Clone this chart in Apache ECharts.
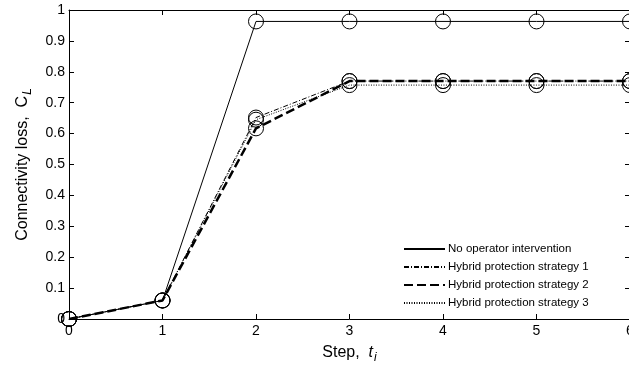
<!DOCTYPE html>
<html>
<head>
<meta charset="utf-8">
<script src="https://cdn.jsdelivr.net/npm/echarts@6/dist/echarts.min.js"></script>
<style>
  html, body { margin: 0; padding: 0; background: #fff; }
  #chart { width: 629px; height: 372px; }
</style>
</head>
<body>
<div id="chart"></div>
<script>
// Step indices and connectivity loss per scenario
const steps = [0, 1, 2, 3, 4, 5, 6];
const noIntervention = [0, 0.06, 0.963, 0.963, 0.963, 0.963, 0.963];
const hybrid1 = [0, 0.06, 0.652, 0.77, 0.77, 0.77, 0.77];
const hybrid2 = [0, 0.06, 0.617, 0.77, 0.77, 0.77, 0.77];
const hybrid3 = [0, 0.06, 0.645, 0.757, 0.757, 0.757, 0.757];
const seriesNames = [
  'No operator intervention',
  'Hybrid protection strategy 1',
  'Hybrid protection strategy 2',
  'Hybrid protection strategy 3'
];

const FONT = '"Liberation Sans", Arial, Helvetica, sans-serif';

function pairs(ys) { return steps.map((x, i) => [x, ys[i]]); }

function makeSeries(name, ys, type, width) {
  return {
    name: name,
    type: 'line',
    data: pairs(ys),
    symbol: 'circle',
    symbolSize: 15,
    showSymbol: true,
    itemStyle: { color: 'rgba(0,0,0,0)', borderColor: '#000', borderWidth: 1 },
    lineStyle: { color: '#000', width: width, type: type },
    emphasis: { disabled: true },
    animation: false
  };
}

const chart = echarts.init(document.getElementById('chart'), null, { renderer: 'canvas' });

const axisLine = { show: true, onZero: false, lineStyle: { color: '#000', width: 1 } };
const tick = { show: true, inside: true, length: 5, lineStyle: { color: '#000', width: 1 } };

chart.setOption({
  backgroundColor: '#fff',
  animation: false,
  grid: { left: 69, right: -1, top: 10, bottom: 53, containLabel: false, outerBoundsMode: 'none' },
  legend: {
    orient: 'vertical',
    left: 398,
    top: 238,
    itemWidth: 41,
    itemHeight: 12,
    itemGap: 6,
    data: seriesNames,
    itemStyle: { opacity: 0 },
    textStyle: { fontFamily: FONT, fontSize: 11.5, color: '#000', padding: [0, 0, 0, -2] }
  },
  xAxis: [
    {
      type: 'value', min: 0, max: 6, interval: 1,
      axisLine: axisLine, axisTick: tick, splitLine: { show: false },
      axisLabel: { fontFamily: FONT, fontSize: 14, color: '#000', margin: 5 },
      name: '{n|Step,  }{t|t}{s|i}',
      nameLocation: 'middle', nameGap: 23,
      nameTextStyle: {
        rich: {
          n: { fontFamily: FONT, fontSize: 16, color: '#000' },
          t: { fontFamily: FONT, fontSize: 16, fontStyle: 'italic', color: '#000' },
          s: { fontFamily: FONT, fontSize: 12, fontStyle: 'italic', color: '#000', padding: [10, 0, 0, 1] }
        }
      }
    },
    {
      type: 'value', min: 0, max: 6, interval: 1, position: 'top',
      axisLine: axisLine, axisTick: tick, axisLabel: { show: false }, splitLine: { show: false }
    }
  ],
  yAxis: [
    {
      type: 'value', min: 0, max: 1, interval: 0.1,
      axisLine: axisLine, axisTick: tick, splitLine: { show: false },
      axisLabel: {
        fontFamily: FONT, fontSize: 14, color: '#000', margin: 4,
        formatter: v => String(Math.round(v * 10) / 10)
      },
      name: '{n|Connectivity loss,  C}{s|L}',
      nameLocation: 'middle', nameGap: 35, nameRotate: 90,
      nameTextStyle: {
        rich: {
          n: { fontFamily: FONT, fontSize: 16, color: '#000' },
          s: { fontFamily: FONT, fontSize: 12, fontStyle: 'italic', color: '#000', padding: [10, 0, 0, 1] }
        }
      }
    },
    {
      type: 'value', min: 0, max: 1, interval: 0.1, position: 'right',
      axisLine: axisLine, axisTick: tick, axisLabel: { show: false }, splitLine: { show: false }
    }
  ],
  series: [
    makeSeries(seriesNames[0], noIntervention, 'solid', 1),
    makeSeries(seriesNames[1], hybrid1, [5, 2, 1, 2], 1),
    makeSeries(seriesNames[2], hybrid2, [9, 4], 2.5),
    makeSeries(seriesNames[3], hybrid3, [1, 1.5], 1)
  ]
});
</script>
</body>
</html>
